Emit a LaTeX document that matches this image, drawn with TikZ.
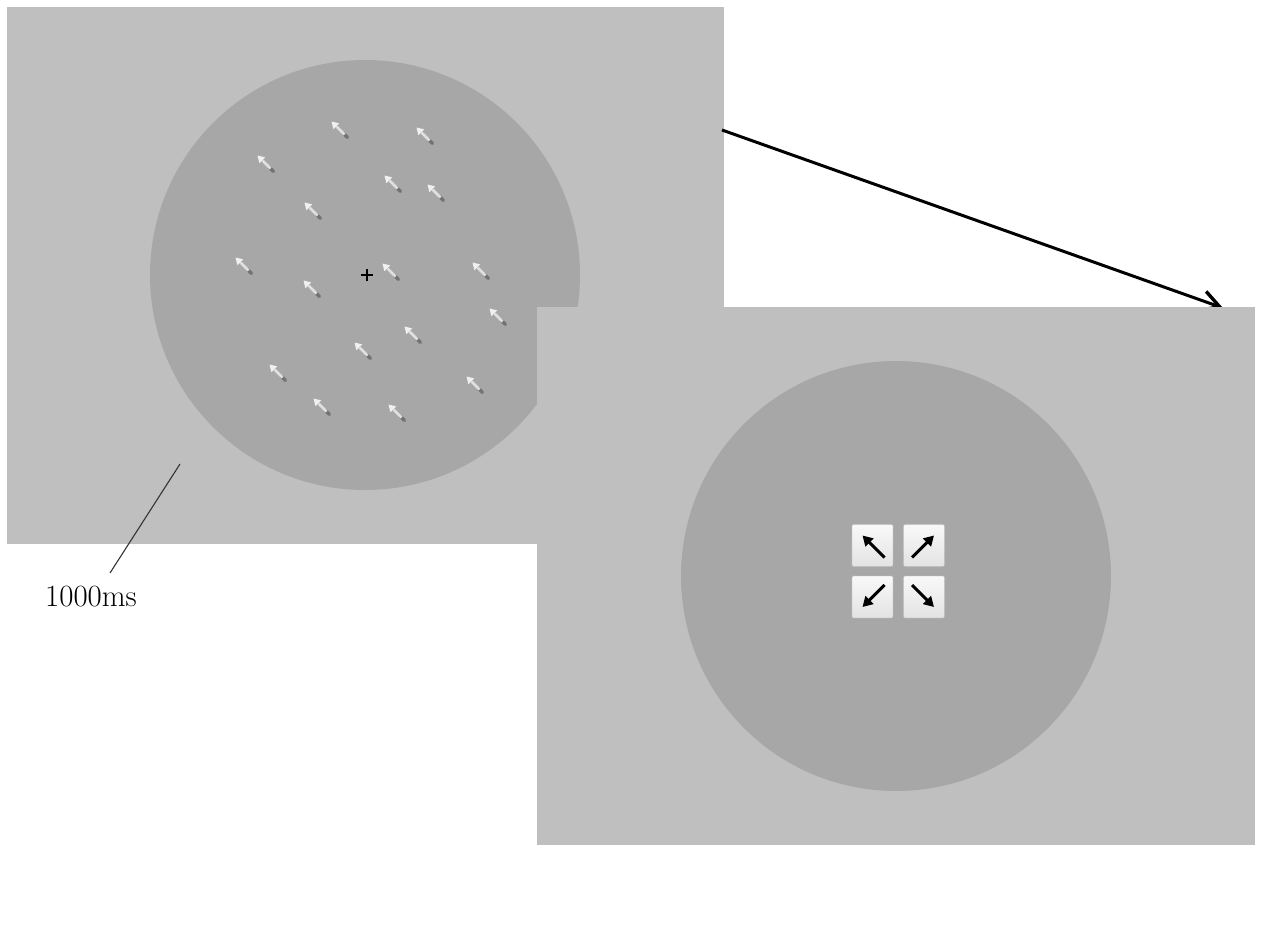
\documentclass[tikz,border=0pt]{standalone}
\usetikzlibrary{arrows.meta,calc}
\begin{document}
\begin{tikzpicture}[x=1bp,y=-1bp]
\definecolor{panel}{gray}{0.75}
\definecolor{disc}{gray}{0.655}
\definecolor{stimlight}{gray}{0.88}
\definecolor{stimhead}{gray}{0.94}
\definecolor{stimdark}{gray}{0.45}
\tikzset{
  stim/.pic={
    \draw[line width=3.2, stimdark, line cap=round] (3.5,3.5) -- (7.5,7.5);
    \draw[line width=2.6, stimlight] (-3.5,-3.5) -- (4.5,4.5);
    \fill[stimhead] (-8.5,-8.5) -- (-0.8,-6.6) -- (-6.6,-0.8) -- cycle;
  },
  btn/.style={draw=gray!65, line width=1, top color=gray!5, bottom color=gray!22,
    minimum width=42, minimum height=43, inner sep=0, rounded corners=1.5},
  barrow/.style={line width=3, black, -{Triangle[length=10,width=11]}},
  bigarrow/.style={line width=3, black, -{Straight Barb[length=18,width=20,line width=3.4]}},
  leader/.style={line width=1.1, black!80},
  lbl/.style={font=\fontsize{31}{32}\selectfont, inner sep=0}
}
\useasboundingbox (0,0) rectangle (1264,938);
\fill[white] (0,0) rectangle (1264,938);
% first screen
\fill[panel] (7,7) rectangle (724,544);
\fill[disc] (365,275) circle[radius=215];
\foreach \x/\y in {340/130,425/136,266/164,393/184,436/193,313/211,244/266,391/272,481/271,312/289,498/317,413/335,363/351,278/373,475/385,322/407,397/413}{
  \pic at (\x,\y) {stim};
}
\draw[line width=1.3, black] (361,275) -- (373,275) (367,269) -- (367,281);
% main arrow (passes behind the second screen)
\coordinate (a1) at (722,130);
\coordinate (a2) at (1223,308);
\draw[bigarrow] (a1) -- (a2);
% second screen
\fill[panel] (537,307) rectangle (1255,845);
\fill[disc] (896,576) circle[radius=215];
\node[btn] (b1) at (872.5,545.5) {};
\node[btn] (b2) at (924,545.5) {};
\node[btn] (b3) at (872.5,597) {};
\node[btn] (b4) at (924,597) {};
\draw[barrow] ($(b1.center)+(12,12)$) -- ($(b1.center)+(-10,-10)$);
\draw[barrow] ($(b2.center)+(-12,12)$) -- ($(b2.center)+(10,-10)$);
\draw[barrow] ($(b3.center)+(12,-12)$) -- ($(b3.center)+(-10,10)$);
\draw[barrow] ($(b4.center)+(-12,-12)$) -- ($(b4.center)+(10,10)$);
% label
\coordinate (lt) at (180,464);
\coordinate (lb) at (110,573);
\draw[leader] (lt) -- (lb);
\node[lbl, anchor=base west] (time) at (45,606) {1000ms};
\end{tikzpicture}
\end{document}
